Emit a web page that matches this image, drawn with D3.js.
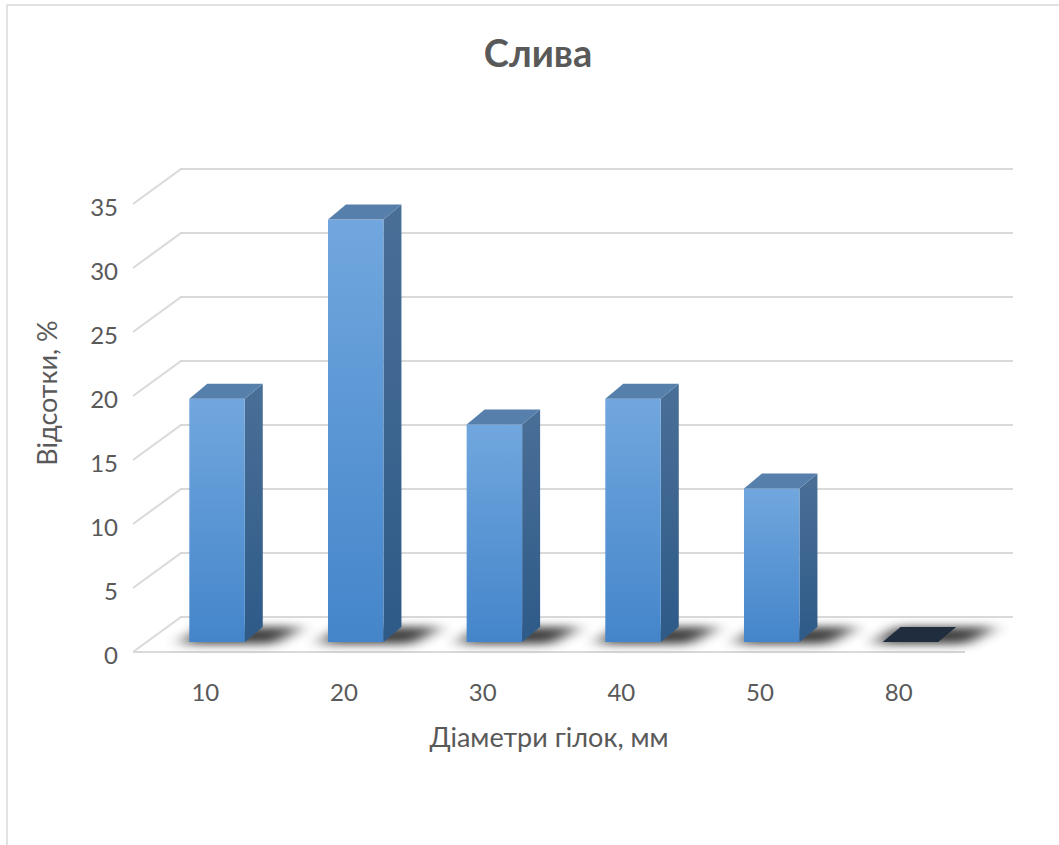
<!DOCTYPE html>
<html>
<head>
<meta charset="utf-8">
<script src="https://cdn.jsdelivr.net/npm/d3@7"></script>
<style>
  body { margin: 0; background: #fff; }
  text { font-family: Lato, "Open Sans", sans-serif; fill: #595959; }
</style>
</head>
<body>
<div id="chart"></div>
<script>
// data
var categories = ["10", "20", "30", "40", "50", "80"];
var values = [19, 33, 17, 19, 12, 0];
var yTicks = [0, 5, 10, 15, 20, 25, 30, 35];
var title = "Слива";
var xTitle = "Діаметри гілок, мм";
var yTitle = "Відсотки, %";

var W = 1059, H = 845;
var svg = d3.select("#chart").append("svg")
  .attr("width", W).attr("height", H);

var defs = svg.append("defs");
var grad = defs.append("linearGradient").attr("id", "front")
  .attr("x1", 0).attr("y1", 0).attr("x2", 0).attr("y2", 1);
grad.append("stop").attr("offset", "0%").attr("stop-color", "#71a7de");
grad.append("stop").attr("offset", "100%").attr("stop-color", "#4485ca");
var gradS = defs.append("linearGradient").attr("id", "side")
  .attr("x1", 0).attr("y1", 0).attr("x2", 0).attr("y2", 1);
gradS.append("stop").attr("offset", "0%").attr("stop-color", "#4a6f97");
gradS.append("stop").attr("offset", "100%").attr("stop-color", "#2e5a88");
defs.append("filter").attr("id", "blur")
  .attr("x", "-50%").attr("y", "-200%").attr("width", "200%").attr("height", "500%")
  .append("feGaussianBlur").attr("stdDeviation", "9 5");

// chart border
svg.append("rect")
  .attr("x", 7).attr("y", 5).attr("width", W + 20).attr("height", H + 20)
  .attr("fill", "none").attr("stroke", "#d9d9d9").attr("stroke-width", 1.5);

// floor geometry (front edge / depth offset)
var frontLeft = 133, frontRight = 965, frontY = 652;
var depthX = 48, depthY = 35;

var x = d3.scaleBand().domain(categories).range([frontLeft, frontRight]);
var y = d3.scaleLinear().domain([0, 35]).range([0, 448]);

// gridlines: diagonal on the left + line on the back wall
var grid = svg.append("g").attr("stroke", "#d9d9d9").attr("stroke-width", 2).attr("fill", "none");
yTicks.forEach(function(v) {
  var fy = frontY - y(v);
  grid.append("path")
    .attr("d", "M" + frontLeft + "," + fy + "L" + (frontLeft + depthX) + "," + (fy - depthY) +
      "L" + (frontRight + depthX) + "," + (fy - depthY));
});
// front edge of floor
grid.append("line")
  .attr("x1", frontLeft).attr("x2", frontRight)
  .attr("y1", frontY).attr("y2", frontY);

// y tick labels
svg.append("g").selectAll("text").data(yTicks).enter().append("text")
  .attr("x", 118)
  .attr("y", function(d) { return frontY - y(d) + 2; })
  .attr("text-anchor", "end")
  .attr("dominant-baseline", "central")
  .style("font-size", "24px")
  .text(function(d) { return d; });

// x tick labels
svg.append("g").selectAll("text").data(categories).enter().append("text")
  .attr("x", function(d) { return x(d) + x.bandwidth() / 2 + 3; })
  .attr("y", 701)
  .attr("text-anchor", "middle")
  .style("font-size", "24px")
  .text(function(d) { return d; });

// bars
var barW = x.bandwidth() / 2.5;
var barLift = 10;             // bar front sits a bit behind floor front edge
var barShift = barLift * depthX / depthY;
var sideX = 18, sideY = 15;

var bars = svg.append("g");
categories.forEach(function(c, i) {
  var v = values[i];
  var x0 = x(c) + x.bandwidth() / 2 + barShift - barW / 2 + 1;
  var x1 = x0 + barW;
  var yb = frontY - barLift;
  var yt = yb - y(v);
  var g = bars.append("g");
  // shadow on floor
  g.append("path")
    .attr("d", "M" + (x0 - 10) + "," + (yb + 2) + "L" + (x1 + 28) + "," + (yb + 2) +
      "L" + (x1 + sideX + 40) + "," + (yb - sideY) + "L" + (x0 + sideX - 4) + "," + (yb - sideY) + "Z")
    .attr("fill", "#000").attr("opacity", 0.75).attr("filter", "url(#blur)");
  if (v > 0) {
    g.append("path")
      .attr("d", "M" + x1 + "," + yt + "L" + (x1 + sideX) + "," + (yt - sideY) +
        "L" + (x1 + sideX) + "," + (yb - sideY) + "L" + x1 + "," + yb + "Z")
      .attr("fill", "url(#side)");
    g.append("rect")
      .attr("x", x0).attr("y", yt).attr("width", barW).attr("height", yb - yt)
      .attr("fill", "url(#front)");
    g.append("path")
      .attr("d", "M" + x0 + "," + yt + "L" + x1 + "," + yt + "L" + (x1 + sideX) + "," + (yt - sideY) +
        "L" + (x0 + sideX) + "," + (yt - sideY) + "Z")
      .attr("fill", "#577fac");
  } else {
    g.append("path")
      .attr("d", "M" + x0 + "," + yt + "L" + x1 + "," + yt + "L" + (x1 + sideX) + "," + (yt - sideY) +
        "L" + (x0 + sideX) + "," + (yt - sideY) + "Z")
      .attr("fill", "#1f2d3f");
  }
});

// titles
svg.append("text")
  .attr("x", 538).attr("y", 67)
  .attr("text-anchor", "middle")
  .style("font-size", "38px").style("font-weight", "bold")
  .text(title);

svg.append("text")
  .attr("x", 549).attr("y", 747)
  .attr("text-anchor", "middle")
  .style("font-size", "27px")
  .text(xTitle);

svg.append("text")
  .attr("transform", "translate(57,393) rotate(-90)")
  .attr("text-anchor", "middle")
  .style("font-size", "27px")
  .text(yTitle);
</script>
</body>
</html>
